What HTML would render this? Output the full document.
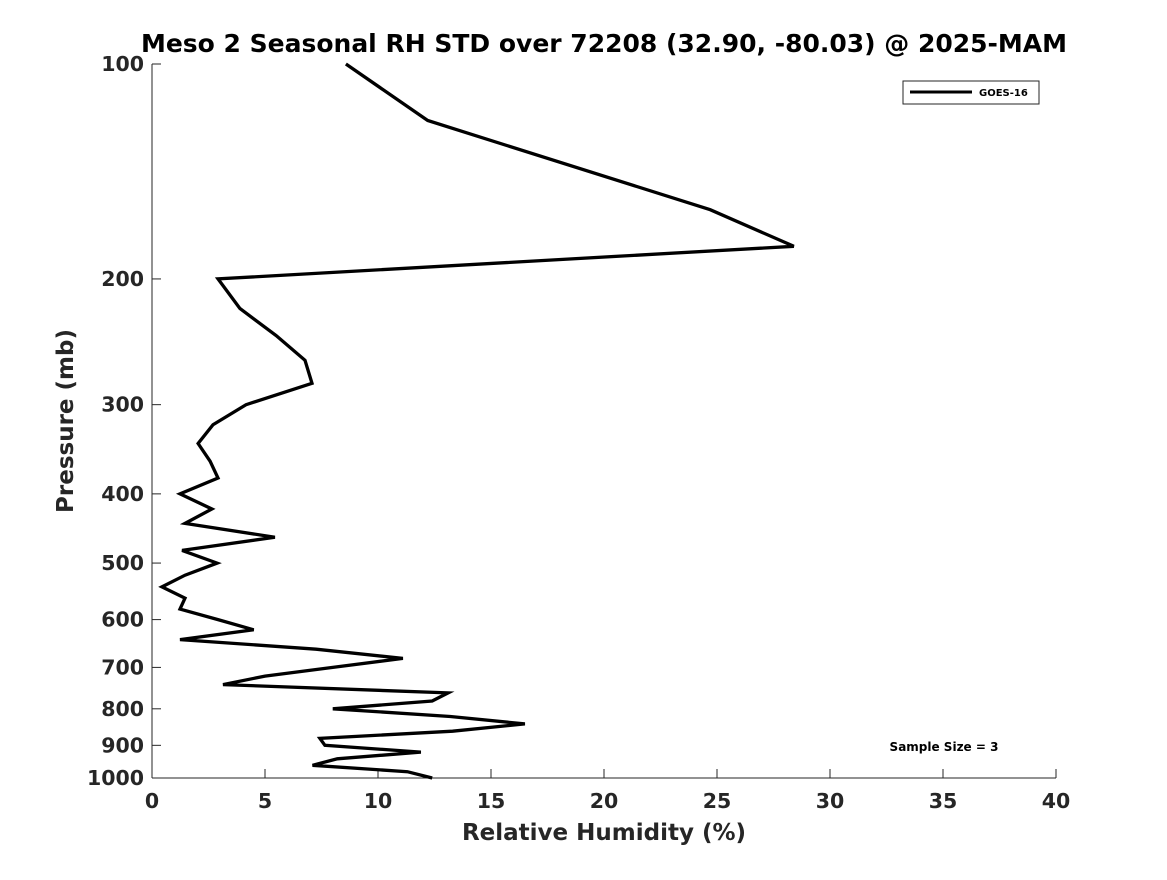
<!DOCTYPE html>
<html><head><meta charset="utf-8"><style>
body{margin:0;background:#fff;}
svg text{font-family:"DejaVu Sans","Liberation Sans",sans-serif;font-weight:bold;fill:#262626;}
</style></head><body>
<svg id="chart" width="1167" height="875" xmlns="http://www.w3.org/2000/svg">
<rect width="1167" height="875" fill="#fff"/>
<text x="604" y="52" text-anchor="middle" font-size="25" style="fill:#000">Meso 2 Seasonal RH STD over 72208 (32.90, -80.03) @ 2025-MAM</text>
<g id="axes"></g>
<path id="series" fill="none" stroke="#000" stroke-width="3.3" stroke-linejoin="miter"/>
<g>
<rect x="903" y="81" width="136" height="23" fill="#fff" stroke="#262626" stroke-width="1"/>
<line x1="910" y1="92" x2="972" y2="92" stroke="#000" stroke-width="3"/>
<text x="979" y="96" font-size="10" style="fill:#000">GOES-16</text>
</g>
<text x="944" y="751" text-anchor="middle" font-size="12" style="fill:#000">Sample Size = 3</text>
<text x="604" y="840" text-anchor="middle" font-size="23">Relative Humidity (%)</text>
<text transform="translate(73,421) rotate(-90)" text-anchor="middle" font-size="23">Pressure (mb)</text>
</svg>
<script>
const xTicks=[0,5,10,15,20,25,30,35,40];
const yTicks=[100,200,300,400,500,600,700,800,900,1000];
const pressure=[100,120,160,180,200,220,240,260,280,300,320,340,360,380,400,420,440,460,480,500,520,540,560,580,600,620,640,660,680,700,720,740,760,780,800,820,840,860,880,900,920,940,960,980,1000];
const rhStd=[8.58,12.2,24.7,28.4,2.92,3.89,5.49,6.77,7.08,4.16,2.7,2.04,2.57,2.92,1.24,2.65,1.46,5.44,1.33,2.88,1.46,0.44,1.46,1.24,2.92,4.5,1.24,7.26,11.1,8.0,5.0,3.14,13.1,12.4,8.0,13.2,16.5,13.3,7.43,7.65,11.9,8.2,7.1,11.3,12.4];
const X0=152,X1=1056,Y0=64,Y1=778;
const xs=v=>X0+(v-0)/(40-0)*(X1-X0);
const ys=p=>Y0+(Math.log10(p)-2)/1*(Y1-Y0);
const ns="http://www.w3.org/2000/svg";
const axes=document.getElementById('axes');
function mk(t,a){const e=document.createElementNS(ns,t);for(const k in a)e.setAttribute(k,a[k]);axes.appendChild(e);return e;}
const la=mk('line',{x1:X0,y1:Y0,x2:X0,y2:Y1,stroke:'#262626','stroke-width':1});


const ba=mk('line',{x1:X0,y1:Y1,x2:X1,y2:Y1,stroke:'#262626','stroke-width':1});


xTicks.forEach(v=>{
 const x=xs(v);
 const t=mk('line',{x1:x,y1:Y1,x2:x,y2:Y1-9,stroke:'#262626','stroke-width':1});
 
 
 const l=mk('text',{x:x,y:808,'text-anchor':'middle','font-size':20.5});
 l.textContent=v;
 
 
});
yTicks.forEach(p=>{
 const y=ys(p);
 const t=mk('line',{x1:X0,y1:y,x2:X0+9,y2:y,stroke:'#262626','stroke-width':1});
 
 
 const l=mk('text',{x:144,y:y+7,'text-anchor':'end','font-size':20.5});
 l.textContent=p;
 
 
});
document.getElementById('series').setAttribute('d',pressure.map((p,i)=>(i?'L':'M')+xs(rhStd[i]).toFixed(1)+','+ys(p).toFixed(1)).join(' '));
</script>
</body></html>
